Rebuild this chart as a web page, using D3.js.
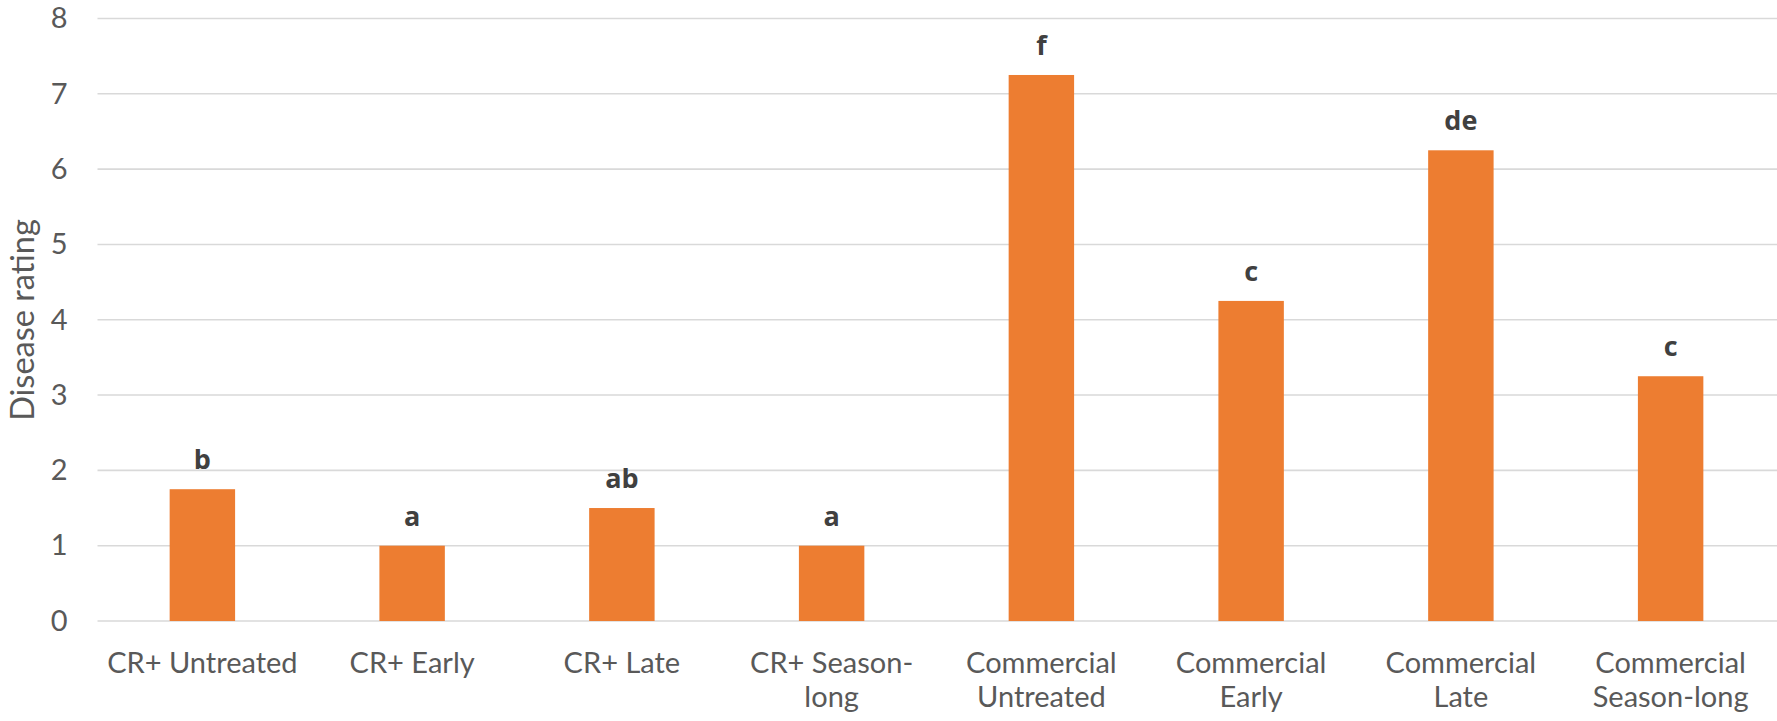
<!DOCTYPE html>
<html>
<head>
<meta charset="utf-8">
<script src="https://cdn.jsdelivr.net/npm/d3@7"></script>
<style>
  html, body { margin: 0; padding: 0; background: #ffffff; }
  svg { display: block; }
</style>
</head>
<body>
<svg id="chart" width="1777" height="721"></svg>
<script>
// ---- data ----
const categories = [
  "CR+ Untreated", "CR+ Early", "CR+ Late", "CR+ Season-long",
  "Commercial Untreated", "Commercial Early", "Commercial Late", "Commercial Season-long"
];
const categoryLines = [
  ["CR+ Untreated"], ["CR+ Early"], ["CR+ Late"], ["CR+ Season-", "long"],
  ["Commercial", "Untreated"], ["Commercial", "Early"], ["Commercial", "Late"], ["Commercial", "Season-long"]
];
const diseaseRating = [1.75, 1.0, 1.5, 1.0, 7.25, 4.25, 6.25, 3.25];
const significance = ["b", "a", "ab", "a", "f", "c", "de", "c"];
const yTicks = [0, 1, 2, 3, 4, 5, 6, 7, 8];
const yAxisTitle = "Disease rating";

// ---- layout ----
const svg = d3.select("#chart");
const plotLeft = 97.5, plotRight = 1775.5, plotTop = 18.5, plotBottom = 621;
const textFont = "Lato, 'Open Sans', sans-serif";

const x = d3.scaleBand()
  .domain(categories)
  .range([plotLeft, plotRight])
  .paddingInner(0.688)
  .paddingOuter(0.344);

const y = d3.scaleLinear().domain([0, 8]).range([plotBottom, plotTop]);

// gridlines
svg.append("g")
  .selectAll("line")
  .data(yTicks)
  .join("line")
  .attr("x1", plotLeft)
  .attr("x2", 1777)
  .attr("y1", d => y(d))
  .attr("y2", d => y(d))
  .attr("stroke", "#d9d9d9")
  .attr("stroke-width", 1.6);

// y axis labels
const yAxis = d3.axisLeft(y).tickValues(yTicks).tickSize(0).tickPadding(30).tickFormat(d3.format("d"));
const ya = svg.append("g").attr("transform", `translate(${plotLeft},0)`).call(yAxis);
ya.select(".domain").remove();
ya.selectAll("text")
  .attr("fill", "#595959")
  .style("font-family", textFont)
  .style("font-size", "29px");

// y axis title
svg.append("text")
  .attr("transform", "translate(34,320) rotate(-90)")
  .attr("text-anchor", "middle")
  .attr("fill", "#595959")
  .style("font-family", textFont)
  .style("font-size", "32.5px")
  .text(yAxisTitle);

// bars
svg.append("g")
  .selectAll("rect")
  .data(categories)
  .join("rect")
  .attr("x", d => x(d))
  .attr("width", x.bandwidth())
  .attr("y", (d, i) => y(diseaseRating[i]))
  .attr("height", (d, i) => y(0) - y(diseaseRating[i]))
  .attr("fill", "#ed7d31");

// significance letters
svg.append("g")
  .selectAll("text")
  .data(categories)
  .join("text")
  .attr("x", d => x(d) + x.bandwidth() / 2)
  .attr("y", (d, i) => y(diseaseRating[i]) - 20)
  .attr("text-anchor", "middle")
  .attr("fill", "#404040")
  .style("font-family", "'Open Sans', sans-serif")
  .style("font-weight", "700")
  .style("font-size", "27px")
  .text((d, i) => significance[i]);

// category labels
const xl = svg.append("g");
categories.forEach((c, i) => {
  const t = xl.append("text")
    .attr("x", x(c) + x.bandwidth() / 2)
    .attr("y", 673)
    .attr("text-anchor", "middle")
    .attr("fill", "#595959")
    .style("font-family", textFont)
    .style("font-size", "29px");
  categoryLines[i].forEach((line, j) => {
    t.append("tspan")
      .attr("x", x(c) + x.bandwidth() / 2)
      .attr("dy", j === 0 ? 0 : 33.5)
      .text(line);
  });
});
</script>
</body>
</html>
